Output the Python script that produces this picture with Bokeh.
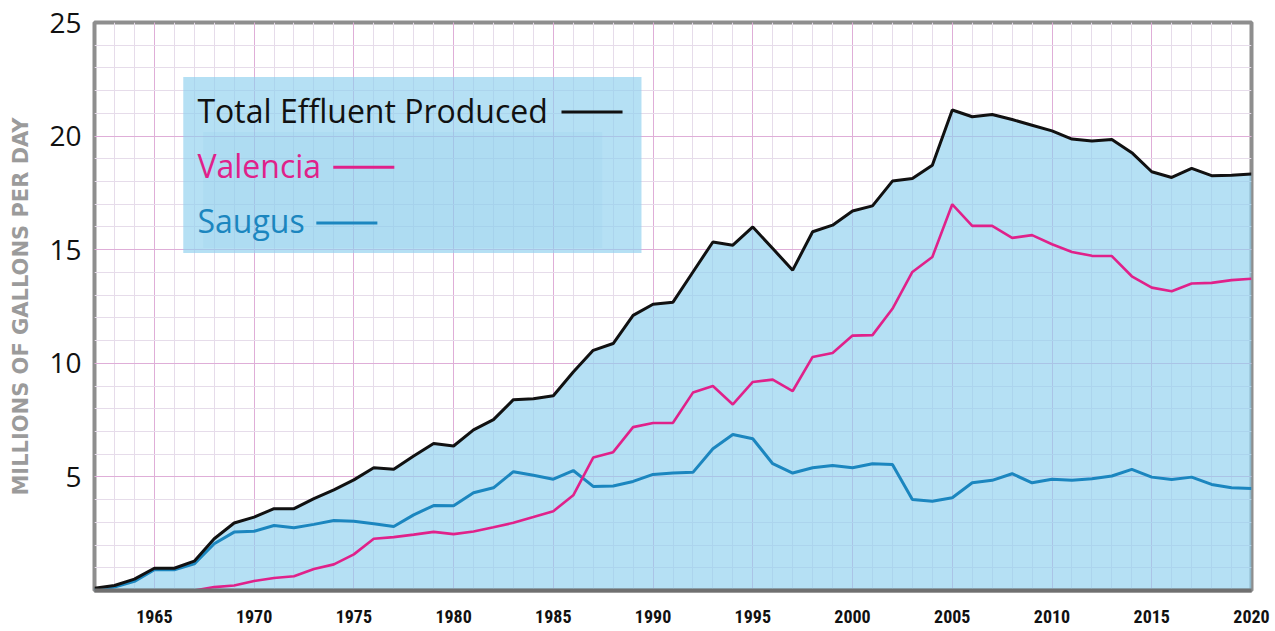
import math
from bokeh.plotting import figure
from bokeh.models import Range1d, FixedTicker, BoxAnnotation, Label, Arrow, ColumnDataSource
from bokeh.embed import file_html
from bokeh.resources import INLINE

# ---------------- data ----------------
years = list(range(1962, 2021))
total = [0.1, 0.22, 0.5, 0.98, 0.98, 1.29, 2.28, 2.97, 3.23, 3.6,
         3.6, 4.04, 4.43, 4.87, 5.4, 5.34, 5.92, 6.47, 6.36, 7.07,
         7.52, 8.4, 8.44, 8.57, 9.62, 10.57, 10.87, 12.11, 12.6, 12.69,
         14.02, 15.34, 15.2, 16.0, 15.05, 14.1, 15.79, 16.08, 16.7, 16.93,
         18.02, 18.13, 18.72, 21.15, 20.85, 20.95, 20.73, 20.48, 20.23, 19.87,
         19.78, 19.85, 19.27, 18.43, 18.18, 18.58, 18.26, 18.28, 18.33]
valencia_years = list(range(1967, 2021))
valencia = [0.0, 0.15, 0.22, 0.42, 0.55, 0.63, 0.95, 1.15, 1.59, 2.28,
            2.35, 2.46, 2.58, 2.48, 2.6, 2.78, 2.98, 3.23, 3.49, 4.19,
            5.85, 6.09, 7.19, 7.37, 7.38, 8.71, 9.0, 8.19, 9.18, 9.28,
            8.78, 10.28, 10.45, 11.22, 11.24, 12.4, 14.02, 14.68, 17.0, 16.05,
            16.05, 15.52, 15.64, 15.24, 14.9, 14.73, 14.72, 13.83, 13.33, 13.17,
            13.51, 13.54, 13.66, 13.72]
saugus = [0.03, 0.15, 0.4, 0.91, 0.91, 1.17, 2.06, 2.57, 2.61, 2.86,
          2.76, 2.91, 3.08, 3.05, 2.94, 2.82, 3.33, 3.74, 3.73, 4.3,
          4.52, 5.23, 5.07, 4.9, 5.28, 4.58, 4.6, 4.8, 5.11, 5.17,
          5.2, 6.24, 6.87, 6.68, 5.58, 5.17, 5.4, 5.5, 5.4, 5.58,
          5.55, 4.01, 3.93, 4.08, 4.74, 4.85, 5.14, 4.74, 4.9, 4.85,
          4.92, 5.04, 5.33, 4.99, 4.89, 4.99, 4.67, 4.52, 4.49]
x_ticks = [1965, 1970, 1975, 1980, 1985, 1990, 1995, 2000, 2005, 2010, 2015, 2020]
y_ticks = [5, 10, 15, 20, 25]
series_names = ["Total Effluent Produced", "Valencia", "Saugus"]
y_label = "MILLIONS OF GALLONS PER DAY"

# ---------------- styles ----------------
C_TOTAL = "#111111"
C_VAL = "#e0218a"
C_SAU = "#1b86bf"
FILL = "#8dd0ee"
MAIN_FONT = "Open Sans"
COND_FONT = "'Liberation Sans Narrow', 'Roboto Condensed', 'DejaVu Sans Condensed', sans-serif"

p = figure(width=1274, height=630,
           x_range=Range1d(years[0], years[-1]), y_range=Range1d(0, 25),
           output_backend="svg", toolbar_location=None,
           min_border_left=94, min_border_right=23, min_border_top=22, min_border_bottom=40)
p.background_fill_color = "white"
p.border_fill_color = "white"
p.outline_line_color = "#8e8e8e"
p.outline_line_width = 4

# axes / ticks
p.xaxis.ticker = FixedTicker(ticks=x_ticks, minor_ticks=years)
p.yaxis.ticker = FixedTicker(ticks=y_ticks, minor_ticks=list(range(0, 26)))
for ax in (p.xaxis[0], p.yaxis[0]):
    ax.major_tick_line_color = None
    ax.minor_tick_line_color = None
    ax.major_tick_out = 0
    ax.major_tick_in = 0
    ax.minor_tick_out = 0
    ax.minor_tick_in = 0
p.xaxis.axis_line_color = "#707070"
p.xaxis.axis_line_width = 4
p.yaxis.axis_line_color = None
p.xaxis.major_label_text_font = COND_FONT
p.xaxis.major_label_text_font_style = "bold"
p.xaxis.major_label_text_font_size = "18px"
p.xaxis.major_label_text_color = "#111111"
p.xaxis.major_label_standoff = 19
p.yaxis.major_label_text_font = MAIN_FONT
p.yaxis.major_label_text_font_size = "28px"
p.yaxis.major_label_text_color = "#111111"
p.yaxis.major_label_standoff = 13
p.yaxis.axis_label = y_label
p.yaxis.axis_label_text_font = "DejaVu Sans"
p.yaxis.axis_label_text_font_style = "bold"
p.yaxis.axis_label_text_font_size = "21px"
p.yaxis.axis_label_text_color = "#9b9b9b"
p.yaxis.axis_label_standoff = 13

# grid
for g in (p.xgrid[0], p.ygrid[0]):
    g.grid_line_color = "#dfaed8"
    g.grid_line_width = 1
    g.minor_grid_line_color = "#e6dcea"
    g.minor_grid_line_width = 1

src = ColumnDataSource(dict(x=years, total=total, saugus=saugus, zero=[0] * len(years)))
vsrc = ColumnDataSource(dict(x=valencia_years, y=valencia))

p.varea(x="x", y1="zero", y2="total", source=src, fill_color=FILL, fill_alpha=0.65)
p.line(x="x", y="saugus", source=src, line_color=C_SAU, line_width=3)
p.line(x="x", y="y", source=vsrc, line_color=C_VAL, line_width=2.6)
p.line(x="x", y="total", source=src, line_color=C_TOTAL, line_width=3)

# custom legend box
p.add_layout(BoxAnnotation(left=1966.45, right=1989.42, bottom=14.85, top=22.6,
                           fill_color=FILL, fill_alpha=0.65, line_color=None))
p.add_layout(BoxAnnotation(left=1967.45, right=1987.45, bottom=15.07, top=20.18,
                           fill_color="#7cc3e3", fill_alpha=0.12, line_color=None))

leg = [(series_names[0], C_TOTAL, 21.13, 1985.41, 1988.47, 21.06),
       (series_names[1], C_VAL, 18.71, 1973.97, 1977.03, 18.63),
       (series_names[2], C_SAU, 16.29, 1973.12, 1976.18, 16.17)]
for name, col, ym, xs, xe, yl in leg:
    p.add_layout(Label(x=1967.16, y=ym, text=name, text_color=col,
                       text_font=MAIN_FONT, text_font_size="32px",
                       text_baseline="middle", text_align="left"))
    p.add_layout(Arrow(end=None, x_start=xs, y_start=yl, x_end=xe, y_end=yl,
                       line_color=col, line_width=3))

open("out.html", "w").write(file_html(p, INLINE))
